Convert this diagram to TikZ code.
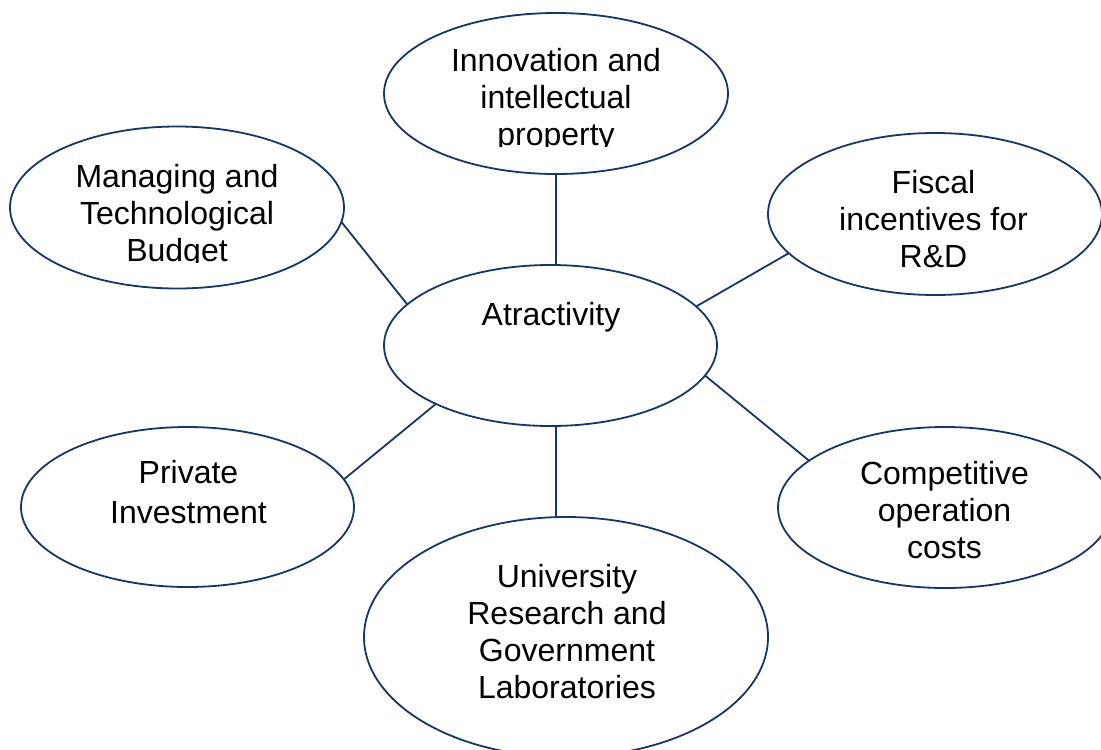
\documentclass[tikz,border=0pt]{standalone}
\usepackage{fontspec}
\setmainfont{Liberation Sans}
\usetikzlibrary{shapes.geometric}
\definecolor{navy}{RGB}{20,55,100}
\begin{document}
\begin{tikzpicture}[x=1pt,y=-1pt,
  bub/.style={ellipse, draw=navy, line width=1.8pt, inner sep=0pt, outer sep=0pt},
  lbl/.style={align=center, inner sep=0pt, font=\fontsize{32}{37}\selectfont, anchor=north},
  link/.style={draw=navy, line width=1.8pt}]
\useasboundingbox (0,0) rectangle (1101,750);
\clip (0,0) rectangle (1101,750);
\fill[white] (0,0) rectangle (1101,750);
% ellipses
\node[bub, minimum width=344pt, minimum height=161pt] (T)  at (556,93.5) {};
\node[bub, minimum width=334pt, minimum height=162pt] (LT) at (177,207.5) {};
\node[bub, minimum width=334pt, minimum height=162pt] (RT) at (935,214) {};
\node[bub, minimum width=333pt, minimum height=161pt] (C)  at (550.5,345.5) {};
\node[bub, minimum width=333pt, minimum height=160pt] (LB) at (187.5,507) {};
\node[bub, minimum width=334pt, minimum height=161pt] (RB) at (945,507.5) {};
\node[bub, minimum width=404pt, minimum height=240pt] (B)  at (566,637) {};
% texts
\begin{scope}
  \clip (380,0) rectangle (735,146);
  \node[lbl] (tT) at (556,41) {\rule{0pt}{30pt}Innovation and\\intellectual\\property};
\end{scope}
\begin{scope}
  \clip (0,120) rectangle (350,262);
  \node[lbl] (tLT) at (177,157) {\rule{0pt}{30pt}Managing and\\Technological\\Budget};
\end{scope}
\node[lbl] (tRT) at (933.5,163) {\rule{0pt}{30pt}Fiscal\\incentives for\\R\&D};
\node[lbl] (tC)  at (551,295) {\rule{0pt}{30pt}Atractivity};
\node[lbl, font=\fontsize{32}{40}\selectfont] (tLB) at (188.5,453) {\rule{0pt}{30pt}Private\\Investment};
\node[lbl] (tB)  at (567,557) {\rule{0pt}{30pt}University\\Research and\\Government\\Laboratories};
\node[lbl] (tRB) at (944.5,454) {\rule{0pt}{30pt}Competitive\\operation\\costs};
% connectors
\draw[link] (T.south) -- (T.south |- C.north);
\draw[link] (LT.-5.3) -- (C.164.4);
\draw[link] (RT.195.6) -- (C.15.45);
\draw[link] (LB.10.8) -- (C.207.85);
\draw[link] (C.-11) -- (RB.161);
\draw[link] (T.south |- C.south) -- (T.south |- B.north);
\end{tikzpicture}
\end{document}
